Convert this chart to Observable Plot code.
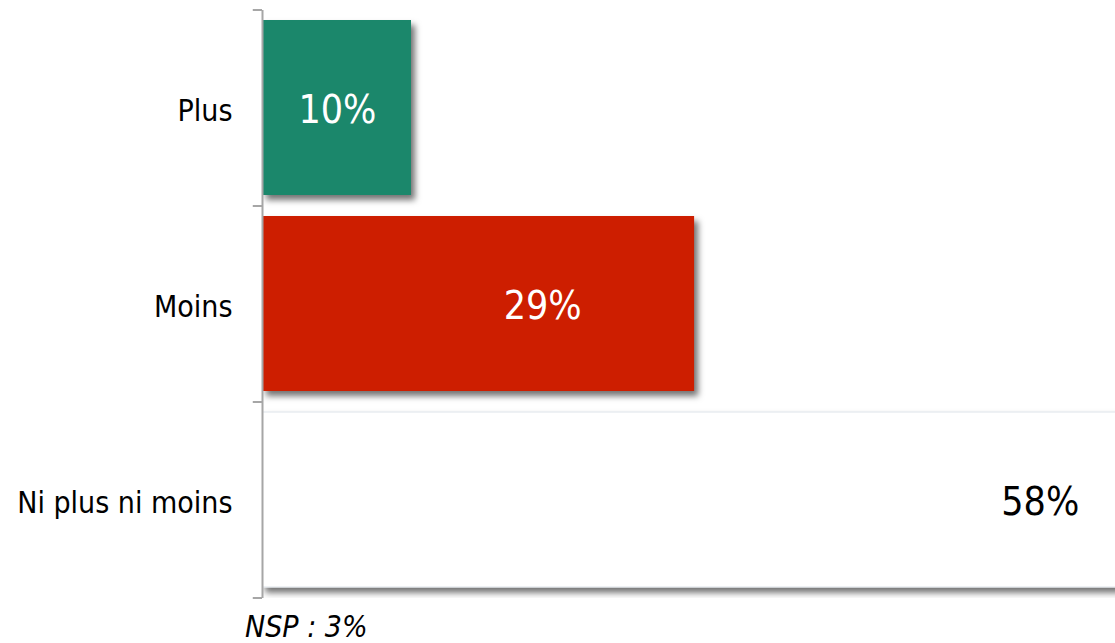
<!DOCTYPE html>
<html><head><meta charset="utf-8">
<script src="https://cdn.jsdelivr.net/npm/d3@7"></script>
<script src="https://cdn.jsdelivr.net/npm/@observablehq/plot@0.6"></script>
<style>
body{margin:0;background:#fff;font-family:"DejaVu Sans Condensed","DejaVu Sans",sans-serif;overflow:hidden}
#cap{font-style:italic;font-size:30px;line-height:34px;margin-left:245px;margin-top:5px;color:#000}
</style></head><body><div id="chart"></div><div id="cap"></div>
<script>
const categories = ["Plus", "Moins", "Ni plus ni moins"];
const values = [10, 29, 58];
const barColors = ["#1b876b", "#cd1e00", "#ffffff"];
const labelColors = ["#ffffff", "#ffffff", "#000000"];
const note = "NSP : 3%";

const data = categories.map((c, i) => ({cat: c, value: values[i], fill: barColors[i], color: labelColors[i]}));
// label anchors (in % units) as placed in the original
const labelAt = {"Plus": 5.03, "Moins": 18.8, "Ni plus ni moins": 52.2};

const W = 1115, H = 605, mT = 10, mB = 7, mL = 262;
const step = (H - mT - mB) / categories.length;
const font = "'DejaVu Sans Condensed','DejaVu Sans',sans-serif";

const svg = Plot.plot({
  width: W, height: H,
  marginTop: mT, marginBottom: mB, marginLeft: mL, marginRight: 0,
  style: {fontFamily: font, background: "#fff", overflow: "hidden"},
  x: {domain: [0, (W - mL) / 14.9], axis: null},
  y: {domain: categories, paddingInner: 0.107, paddingOuter: 0.0535, label: null},
  marks: [
    Plot.barX(data, {y: "cat", x: "value", fill: "fill", stroke: d => d.cat === "Ni plus ni moins" ? "#e9edf1" : "none", strokeWidth: 1.5, clip: true}),
    Plot.ruleX([0], {stroke: "#a6a6a6", strokeWidth: 2}),
    Plot.ruleY(categories, {y: d => d, x1: -0.62, x2: 0, dy: -step / 2, stroke: "#a6a6a6", strokeWidth: 2}),
    Plot.ruleY(categories.slice(-1), {y: d => d, x1: -0.62, x2: 0, dy: step / 2, stroke: "#a6a6a6", strokeWidth: 2}),
    Plot.text(data, {y: "cat", x: d => labelAt[d.cat], text: d => d.value + "%", fill: "color", fontSize: 39, fontFamily: font, dy: 3}),
    Plot.axisY({tickSize: 0, tickPadding: 30, fontSize: 30, fontFamily: font, fill: "#000", label: null, dy: 3})
  ]
});
d3.select(svg).selectAll("g[aria-label='bar'] rect").style("filter", "drop-shadow(4px 5px 3px rgba(0,0,0,0.55))");
document.getElementById("chart").appendChild(svg);
document.getElementById("cap").textContent = note;
</script>
</body></html>
